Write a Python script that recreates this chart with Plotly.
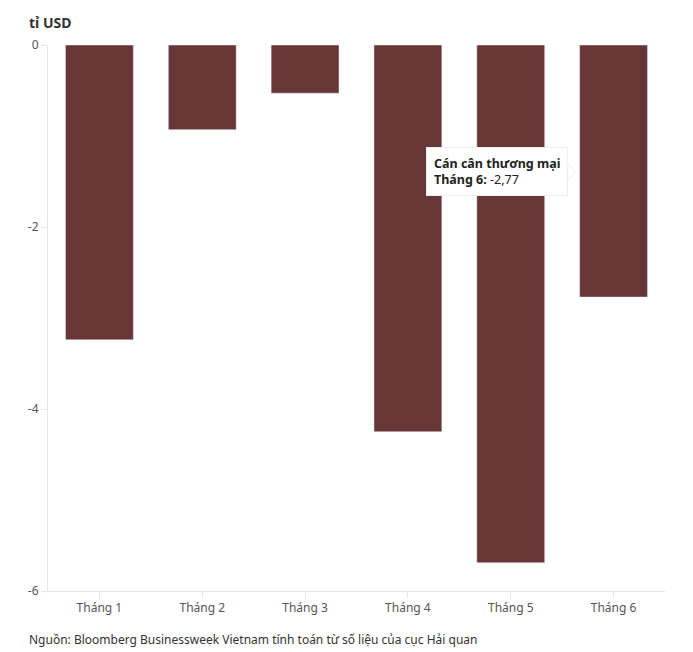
import plotly.graph_objects as go

categories = ["Tháng 1", "Tháng 2", "Tháng 3", "Tháng 4", "Tháng 5", "Tháng 6"]
values = [-3.24, -0.93, -0.53, -4.25, -5.69, -2.77]
y_ticks = [0, -2, -4, -6]
y_tick_labels = ["0", "-2", "-4", "-6"]

FONT = "Noto Sans"
BAR = "#673636"

fig = go.Figure()
fig.add_trace(go.Bar(x=categories, y=values, marker_color=BAR, width=0.66,
                     name="Cán cân thương mại"))

fig.update_layout(
    width=693, height=652,
    margin=dict(l=48, r=28, t=45, b=61),
    plot_bgcolor="white", paper_bgcolor="white",
    font=dict(family=FONT, size=12, color="#555"),
    showlegend=False,
    bargap=0.34,
)
fig.update_xaxes(showline=True, linecolor="#e6e6e6", linewidth=1,
                 ticks="outside", ticklen=6, tickcolor="#e6e6e6",
                 tickfont=dict(size=12, color="#555"), showgrid=False,
                 range=[-0.5, 5.5])
fig.update_yaxes(range=[-6, 0], tickvals=y_ticks, ticktext=y_tick_labels,
                 showline=True, linecolor="#e6e6e6", linewidth=1,
                 ticks="outside", ticklen=6, tickcolor="#e6e6e6",
                 tickfont=dict(size=12, color="#555"), showgrid=False,
                 zeroline=False)

fig.add_annotation(xref="paper", yref="paper", x=-0.034, y=1.0, yshift=23,
                   xanchor="left", yanchor="middle", showarrow=False,
                   text="<b>tỉ USD</b>", font=dict(size=14, color="#333", family=FONT))
fig.add_annotation(xref="paper", yref="paper", x=-0.034, y=0, yshift=-48,
                   xanchor="left", yanchor="middle", showarrow=False,
                   text="Nguồn: Bloomberg Businessweek Vietnam tính toán từ số liệu của cục Hải quan",
                   font=dict(size=12, color="#333", family=FONT))

# tooltip
fig.add_shape(type="path", xref="x", yref="y",
              path="M 4.553,-1.30 L 4.63,-1.395 L 4.553,-1.49 Z",
              fillcolor="white", line=dict(color="#eeeeee", width=1))
fig.add_annotation(x=4.553, y=-1.395, xref="x", yref="y", xanchor="right",
                   yanchor="middle", showarrow=False, align="left",
                   text="<b>Cán cân thương mại</b><br><b>Tháng 6:</b> -2,77",
                   font=dict(size=12.5, color="#222", family=FONT),
                   bgcolor="white", bordercolor="#eeeeee", borderwidth=1,
                   borderpad=7)
fig.add_shape(type="line", xref="x", yref="y",
              x0=4.553, x1=4.553, y0=-1.31, y1=-1.48,
              line=dict(color="white", width=2))

fig.write_html("out.html")
